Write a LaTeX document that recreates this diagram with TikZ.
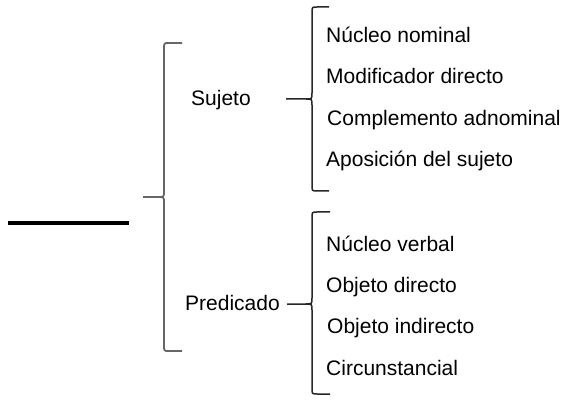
\documentclass[tikz,border=0pt]{standalone}
\usepackage{fontspec}
\setmainfont{Liberation Sans}
\usepackage{tikz}

% #1 spine x, #2 top y, #3 tip y, #4 bottom y, #5 tip x, #6 hook x
\newcommand{\llave}[6]{%
  \draw (#6,#2) -- ({#1+5},#2) .. controls (#1,#2) .. (#1,{#2+6})
        -- (#1,{#3-6}) .. controls (#1,#3) .. ({#1-6},#3) -- (#5,#3)
        ({#1-6},#3) .. controls (#1,#3) .. (#1,{#3+6})
        -- (#1,{#4-6}) .. controls (#1,#4) .. ({#1+5},#4) -- (#6,#4);}

\begin{document}
\begin{tikzpicture}[x=1pt,y=-1pt,
    item/.style={anchor=base west,inner sep=0pt,font=\fontsize{21}{25}\selectfont}]
\useasboundingbox (0,0) rectangle (563,401);
% blank line
\draw[line width=4pt] (8,223) -- (129,223);
% big brace
\scope[gray!80!black,line width=1.8pt]
\llave{164}{43}{197}{351}{143}{182}
\endscope
% small braces
\scope[black!85,line width=1.5pt]
\llave{312}{7}{99}{191}{286}{329}
\llave{312}{212}{304}{394}{287}{330}
\endscope
% labels
\node[item] (sujeto) at (191,106) {Sujeto};
\node[item] (predicado) at (185,310) {Predicado};
\node[item] (nn) at (326,43) {Núcleo nominal};
\node[item] (md) at (326,84) {Modificador directo};
\node[item] (ca) at (327,126) {Complemento adnominal};
\node[item] (as) at (326,167) {Aposición del sujeto};
\node[item] (nv) at (326,252) {Núcleo verbal};
\node[item] (od) at (326,293) {Objeto directo};
\node[item] (oi) at (327,334) {Objeto indirecto};
\node[item] (cc) at (326,375) {Circunstancial};
\end{tikzpicture}
\end{document}
